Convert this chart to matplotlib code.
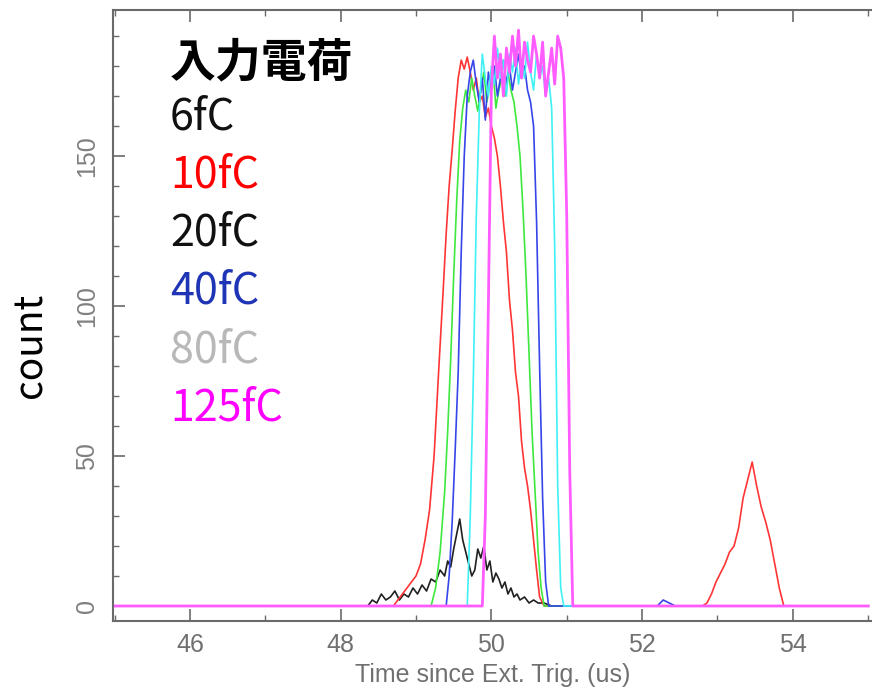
import matplotlib
matplotlib.use('Agg')
import matplotlib.pyplot as plt
from matplotlib.ticker import MultipleLocator

# 6fC (black)
x_6fc = [45.0, 48.36, 48.42, 48.48, 48.54, 48.60, 48.66, 48.72, 48.78, 48.84, 48.90, 48.96, 49.02,
         49.08, 49.14, 49.20, 49.26, 49.32, 49.38, 49.42, 49.46, 49.50, 49.54, 49.58, 49.62, 49.66,
         49.70, 49.74, 49.78, 49.82, 49.86, 49.90, 49.94, 49.98, 50.02, 50.06, 50.10, 50.14, 50.18,
         50.22, 50.26, 50.30, 50.34, 50.38, 50.44, 50.50, 50.56, 50.62, 50.70, 50.80, 55.0]
y_6fc = [0, 0, 2, 1, 4, 2, 3, 5, 2, 4, 3, 6, 4, 7, 5, 9, 8, 12, 10, 15, 13, 19, 24, 29, 22, 18,
         14, 10, 12, 19, 16, 20, 12, 15, 8, 11, 9, 6, 8, 4, 6, 3, 4, 2, 3, 1, 2, 1, 1, 0, 0]

# 10fC (red)
x_10fc = [45.0, 48.70, 48.76, 48.82, 48.88, 48.94, 49.00, 49.06, 49.12, 49.18, 49.24, 49.30, 49.36,
          49.40, 49.44, 49.48, 49.52, 49.56, 49.60, 49.64, 49.68, 49.72, 49.76, 49.80, 49.84, 49.88,
          49.92, 49.96, 50.00, 50.04, 50.08, 50.12, 50.16, 50.20, 50.24, 50.28, 50.32, 50.36, 50.40,
          50.44, 50.48, 50.52, 50.56, 50.60, 50.64, 50.70, 52.80, 52.86, 52.92, 52.98, 53.04, 53.10,
          53.16, 53.22, 53.28, 53.34, 53.40, 53.46, 53.52, 53.58, 53.64, 53.70, 53.76, 53.82, 53.88, 55.0]
y_10fc = [0, 0, 2, 4, 6, 8, 10, 14, 22, 32, 50, 78, 105, 124, 140, 152, 165, 176, 182, 179, 183,
          178, 172, 176, 168, 170, 163, 166, 160, 156, 150, 140, 128, 118, 102, 92, 78, 70, 55, 46,
          40, 32, 22, 12, 3, 0, 0, 1, 4, 8, 11, 14, 18, 20, 26, 36, 42, 48, 40, 33, 28, 22, 14, 6, 0, 0]

# 20fC (green)
x_20fc = [45.0, 49.20, 49.26, 49.32, 49.38, 49.42, 49.46, 49.50, 49.54, 49.58, 49.62, 49.66, 49.70,
          49.74, 49.78, 49.82, 49.86, 49.90, 49.94, 49.98, 50.02, 50.06, 50.10, 50.14, 50.18, 50.22,
          50.26, 50.30, 50.34, 50.38, 50.42, 50.46, 50.50, 50.54, 50.58, 50.62, 50.66, 50.70, 55.0]
y_20fc = [0, 0, 6, 18, 38, 58, 82, 110, 135, 155, 166, 172, 168, 176, 170, 165, 172, 178, 168, 174,
          180, 166, 172, 176, 170, 178, 172, 168, 160, 150, 132, 110, 84, 58, 38, 18, 6, 0, 0]

# 40fC (blue)
x_40fc = [45.0, 49.40, 49.44, 49.48, 49.52, 49.56, 49.60, 49.64, 49.68, 49.72, 49.76, 49.80, 49.84,
          49.88, 49.92, 49.96, 50.00, 50.04, 50.08, 50.12, 50.16, 50.20, 50.24, 50.28, 50.32, 50.36,
          50.40, 50.44, 50.48, 50.52, 50.56, 50.60, 50.64, 50.68, 50.72, 50.76, 52.20, 52.28, 52.36,
          52.44, 55.0]
y_40fc = [0, 0, 10, 28, 52, 78, 118, 150, 170, 178, 182, 174, 168, 176, 162, 178, 172, 180, 170,
          176, 182, 174, 180, 172, 178, 184, 176, 180, 172, 168, 160, 128, 80, 36, 8, 0, 0, 2, 1, 0, 0]

# 80fC (cyan)
x_80fc = [45.0, 49.68, 49.72, 49.76, 49.80, 49.84, 49.88, 49.92, 49.96, 50.00, 50.04, 50.08, 50.12,
          50.16, 50.20, 50.24, 50.28, 50.32, 50.36, 50.40, 50.44, 50.48, 50.52, 50.56, 50.60, 50.64,
          50.68, 50.72, 50.76, 50.80, 50.84, 50.88, 50.92, 50.96, 55.0]
y_80fc = [0, 0, 30, 75, 130, 165, 184, 176, 170, 180, 174, 186, 176, 182, 170, 184, 178, 186, 174,
          182, 176, 188, 178, 172, 184, 176, 180, 170, 176, 166, 120, 40, 6, 0, 0]

# 125fC (magenta)
x_125fc = [45.0, 49.88, 49.92, 49.96, 50.00, 50.04, 50.08, 50.12, 50.16, 50.20, 50.24, 50.28, 50.32,
           50.36, 50.40, 50.44, 50.48, 50.52, 50.56, 50.60, 50.64, 50.68, 50.72, 50.76, 50.80, 50.84,
           50.88, 50.92, 50.96, 51.00, 51.04, 51.08, 55.0]
y_125fc = [0, 0, 30, 100, 172, 190, 176, 184, 170, 186, 178, 190, 180, 192, 176, 188, 182, 178, 190,
           184, 176, 188, 170, 178, 186, 174, 190, 186, 176, 130, 45, 0, 0]

legend_title = '入力電荷'
legend_labels = ['6fC', '10fC', '20fC', '40fC', '80fC', '125fC']
legend_colors = ['#111111', '#ff0000', '#111111', '#1f35b5', '#b8b8b8', '#ff00ff']


def main():
    fig = plt.figure(figsize=(8.72, 6.93), dpi=100)
    ax = fig.add_axes([113 / 872, 72 / 693, 759 / 872, 611 / 693])

    ax.plot(x_6fc, y_6fc, color='#202020', lw=1.2)
    ax.plot(x_10fc, y_10fc, color='#ff3535', lw=1.2)
    ax.plot(x_20fc, y_20fc, color='#3ee83e', lw=1.2)
    ax.plot(x_40fc, y_40fc, color='#3545e8', lw=1.2)
    ax.plot(x_80fc, y_80fc, color='#3ff0f5', lw=1.2)
    ax.plot(x_125fc, y_125fc, color='#ff5cff', lw=2.0)

    ax.set_xlim(44.98, 55.05)
    ax.set_ylim(-5, 198.7)

    ax.xaxis.set_major_locator(MultipleLocator(2))
    ax.xaxis.set_minor_locator(MultipleLocator(1))
    ax.yaxis.set_major_locator(MultipleLocator(50))
    ax.yaxis.set_minor_locator(MultipleLocator(10))

    tick_gray = '#6a6a6a'
    ax.tick_params(which='both', direction='in', top=True, right=False, color=tick_gray)
    ax.tick_params(which='major', length=8.5, width=1.2)
    ax.tick_params(which='minor', length=4.3, width=1.0)
    ax.tick_params(axis='x', labelsize=18, labelcolor='#707070', pad=9)
    ax.tick_params(axis='y', labelsize=18, labelcolor='#808080', pad=10)
    for lab in ax.get_xticklabels() + ax.get_yticklabels():
        lab.set_family('Liberation Sans')
    for lab in ax.get_yticklabels():
        lab.set_rotation(90)
        lab.set_va('center')

    for side in ['left', 'bottom', 'top']:
        ax.spines[side].set_color(tick_gray)
        ax.spines[side].set_linewidth(1.5)
    ax.spines['right'].set_visible(False)

    ax.set_xlabel('Time since Ext. Trig. (us)', fontsize=18, color='#707070',
                  family='Liberation Sans', labelpad=4)
    fig.text(30 / 872, 1 - 345 / 693, 'count', rotation=90, fontsize=28,
             family=['Noto Sans CJK JP', 'DejaVu Sans'], ha='center', va='center')

    fig.text(170 / 872, 1 - 63 / 693, legend_title, fontsize=33, fontweight='bold',
             family=['Noto Sans CJK JP', 'DejaVu Sans'], ha='left', va='center')
    for i, (label, color) in enumerate(zip(legend_labels, legend_colors)):
        fig.text(170 / 872, 1 - (117 + 58.3 * i) / 693, label, fontsize=31, color=color,
                 family=['Noto Sans CJK JP', 'DejaVu Sans'], ha='left', va='center')

    fig.savefig('out.png', dpi=100)


if __name__ == '__main__':
    main()
